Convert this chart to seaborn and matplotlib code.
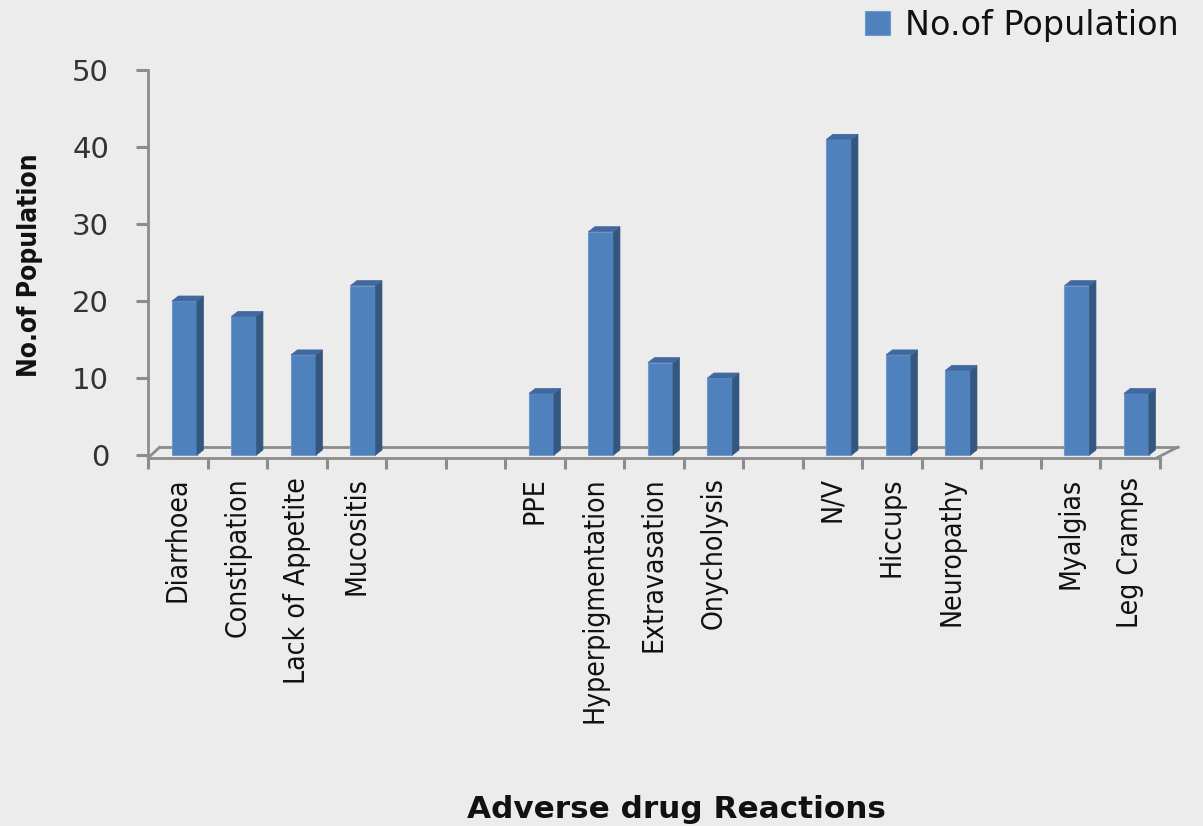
import numpy as np
import pandas as pd
import matplotlib
matplotlib.use("Agg")
import matplotlib.pyplot as plt
from matplotlib.patches import Polygon
from matplotlib import font_manager
import seaborn as sns

# Category axis slots ("" = empty slot between reaction groups)
categories = ["Diarrhoea", "Constipation", "Lack of Appetite", "Mucositis", "", "",
              "PPE", "Hyperpigmentation", "Extravasation", "Onycholysis", "",
              "N/V", "Hiccups", "Neuropathy", "",
              "Myalgias", "Leg Cramps"]
population = [20, 18, 13, 22, 8, 29, 12, 10, 41, 13, 11, 22, 8]
y_ticks = [0, 10, 20, 30, 40, 50]
series_name = "No.of Population"
x_title = "Adverse drug Reactions"
y_title = "No.of Population"

reactions = [c for c in categories if c]
df = pd.DataFrame({"reaction": reactions, "population": population})
# unique keys for the empty slots so seaborn keeps them as blank positions
order = [c if c else " " * (i + 1) for i, c in enumerate(categories)]

sns.set_theme(style="white")
bg = "#ececec"
grey = "#8c8c8c"
front = "#4f81bd"
side = "#34577f"
top = "#41699f"
plt.rcParams["font.family"] = ["DejaVu Sans"]

# pick a narrow face for the rotated texts if one is installed
narrow_family, narrow_stretch = "DejaVu Sans", "normal"
for f in font_manager.fontManager.ttflist:
    nm = f.name
    st = str(f.stretch)
    if f.style == "normal" and ("Narrow" in nm or "Condensed" in nm or "condensed" in st):
        narrow_family = nm
        narrow_stretch = st if "condensed" in st else "normal"
        if nm.startswith("DejaVu") or nm.startswith("Liberation"):
            break

fig = plt.figure(figsize=(12.03, 8.26), dpi=100, facecolor=bg)
renderer = fig.canvas.get_renderer()


def fit_size(text, target_px, **kw):
    t = fig.text(0, 0, text, fontsize=20, **kw)
    w = t.get_window_extent(renderer).width
    t.remove()
    return 20 * target_px / w


narrow_kw = dict(family=narrow_family, stretch=narrow_stretch)
cat_size = fit_size("Diarrhoea", 125, **narrow_kw)
ytitle_size = fit_size(y_title, 224, fontweight="bold", **narrow_kw)

ax = fig.add_axes([148 / 1203, 1 - 458 / 826, 1011.5 / 1203, 388 / 826])
ax.set_facecolor(bg)

sns.barplot(data=df, x="reaction", y="population", order=order, width=0.42,
            color=front, saturation=1, edgecolor="#6f98cc", linewidth=0.8,
            label=series_name, ax=ax, zorder=3)

n = len(categories)
shift = 0.613           # slot boundary offset relative to bar centres
x_lo, x_hi = -shift, n - shift
y_lo, y_hi = -0.39, 50
ax.set_xlim(x_lo, x_hi)
ax.set_ylim(y_lo, y_hi)

# depth of the 3-D extrusion, in data units
dx, dy = 0.109, 0.65
for p in list(ax.patches):
    x0, w, h = p.get_x(), p.get_width(), p.get_height()
    if not np.isfinite(h) or h == 0:
        continue
    x1 = x0 + w
    ax.add_patch(Polygon([(x1, 0), (x1, h), (x1 + dx, h + dy), (x1 + dx, dy)],
                         closed=True, facecolor=side, edgecolor=side, lw=0.5, zorder=3))
    ax.add_patch(Polygon([(x0, h), (x1, h), (x1 + dx, h + dy), (x0 + dx, h + dy)],
                         closed=True, facecolor=top, edgecolor=top, lw=0.5, zorder=3))

# floor of the 3-D plot area
floor_back = 1.04
ax.plot([x_lo + 0.2, x_hi + 0.31], [floor_back, floor_back], color=grey, lw=2,
        clip_on=False, zorder=1)
ax.plot([x_lo, x_lo + 0.2], [y_lo, floor_back], color=grey, lw=2, clip_on=False, zorder=1)
ax.plot([x_hi - 0.05, x_hi + 0.31], [y_lo, floor_back], color=grey, lw=2,
        clip_on=False, zorder=1)

for s in ["top", "right"]:
    ax.spines[s].set_visible(False)
for s in ["left", "bottom"]:
    ax.spines[s].set_color(grey)
    ax.spines[s].set_linewidth(2)

# category labels at slot centres, tick marks at slot boundaries
ax.set_xticks(np.arange(n) - shift + 0.5, categories, rotation=90, ha="center",
              va="top", fontsize=cat_size, color="#111111", **narrow_kw)
ax.set_xticks(np.arange(n + 1) - shift, minor=True)
ax.tick_params(axis="x", which="major", length=0, pad=14)
ax.tick_params(axis="x", which="minor", length=8, width=2.2, color=grey, direction="out",
               bottom=True)

ax.set_yticks(y_ticks)
ax.set_yticklabels([str(v) for v in y_ticks], fontsize=21, color="#333333")
ax.tick_params(axis="y", length=9, width=2.2, color=grey, direction="out", pad=19, left=True)
ax.grid(False)

ax.set_xlabel(x_title, fontsize=22.4, fontweight="bold", color="#111111")
ax.xaxis.set_label_coords(0.522, -0.907)
ax.set_ylabel(y_title, fontsize=ytitle_size, fontweight="bold", color="#111111",
              **narrow_kw)
ax.yaxis.set_label_coords(-0.1167, 0.497)
ax.yaxis.label.set_va("center")
ax.xaxis.label.set_va("center")

leg = ax.legend(loc="upper right", bbox_to_anchor=(1185 / 1203, 1 - 2 / 826),
                bbox_transform=fig.transFigure, frameon=False, fontsize=24,
                handlelength=0.75, handleheight=0.75, handletextpad=0.45,
                borderpad=0.2, borderaxespad=0)
for t in leg.get_texts():
    t.set_color("#111111")

fig.savefig("out.png", dpi=100, facecolor=bg)
